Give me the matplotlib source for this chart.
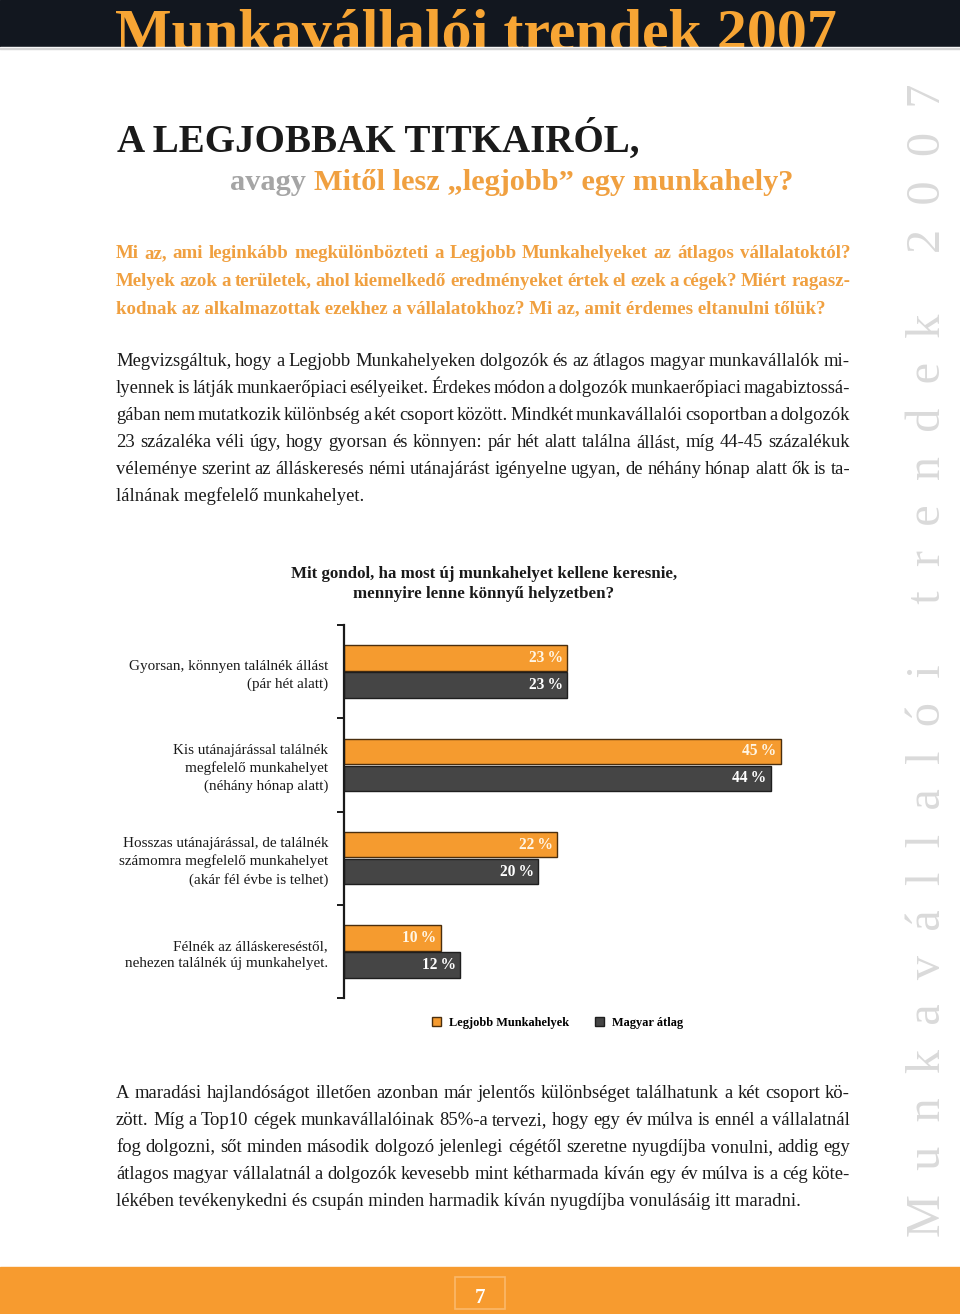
import matplotlib
matplotlib.use('Agg')
import matplotlib.pyplot as plt
from matplotlib.patches import Rectangle, Patch

# ---------------- data ----------------
categories = [
    "Gyorsan, könnyen találnék állást\n(pár hét alatt)",
    "Kis utánajárással találnék\nmegfelelő munkahelyet\n(néhány hónap alatt)",
    "Hosszas utánajárással, de találnék\nszámomra megfelelő munkahelyet\n(akár fél évbe is telhet)",
    "Félnék az álláskereséstől,\nnehezen találnék új munkahelyet.",
]
legjobb = [23, 45, 22, 10]
magyar = [23, 44, 20, 12]
series_names = ["Legjobb Munkahelyek", "Magyar átlag"]
chart_title = "Mit gondol, ha most új munkahelyet kellene keresnie,\nmennyire lenne könnyű helyzetben?"

header_text = "Munkavállalói trendek 2007"
title_text = "A LEGJOBBAK TITKAIRÓL,"
subtitle_gray = "avagy"
subtitle_orange = "Mitől lesz „legjobb” egy munkahely?"
lead_lines = [
    "Mi az, ami leginkább megkülönbözteti a Legjobb Munkahelyeket az átlagos vállalatoktól?",
    "Melyek azok a területek, ahol kiemelkedő eredményeket értek el ezek a cégek? Miért ragasz-",
    "kodnak az alkalmazottak ezekhez a vállalatokhoz? Mi az, amit érdemes eltanulni tőlük?",
]
body_lines = [
    "Megvizsgáltuk, hogy a Legjobb Munkahelyeken dolgozók és az átlagos magyar munkavállalók mi-",
    "lyennek is látják munkaerőpiaci esélyeiket. Érdekes módon a dolgozók munkaerőpiaci magabiztossá-",
    "gában nem mutatkozik különbség a két csoport között. Mindkét munkavállalói csoportban a dolgozók",
    "23 százaléka véli úgy, hogy gyorsan és könnyen: pár hét alatt találna állást, míg 44-45 százalékuk",
    "véleménye szerint az álláskeresés némi utánajárást igényelne ugyan, de néhány hónap alatt ők is ta-",
    "lálnának megfelelő munkahelyet.",
]
tail_lines = [
    "A maradási hajlandóságot illetően azonban már jelentős különbséget találhatunk a két csoport kö-",
    "zött. Míg a Top10 cégek munkavállalóinak 85%-a tervezi, hogy egy év múlva is ennél a vállalatnál",
    "fog dolgozni, sőt minden második dolgozó jelenlegi cégétől szeretne nyugdíjba vonulni, addig egy",
    "átlagos magyar vállalatnál a dolgozók kevesebb mint kétharmada kíván egy év múlva is a cég köte-",
    "lékében tevékenykedni és csupán minden harmadik kíván nyugdíjba vonulásáig itt maradni.",
]
side_words = ["Munkavállalói", "trendek", "2007"]
page_number = "7"

# ---------------- style ----------------
SERIF = ["Liberation Serif", "DejaVu Serif"]
ORANGE = "#f59b2f"
TXT_ORANGE = "#f0a040"
HEAD_ORANGE = "#f7a534"
DARK = "#454545"

fig = plt.figure(figsize=(9.6, 13.14), dpi=100)
bg = fig.add_axes([0, 0, 1, 1])
bg.set_xlim(0, 960)
bg.set_ylim(1314, 0)
bg.axis('off')
renderer = fig.canvas.get_renderer()


def width_of(t):
    return t.get_window_extent(renderer).width


def fit(t, target):
    fs = t.get_fontsize()
    t.set_fontsize(fs * target / width_of(t))
    return t


def justified(line, y, x0, x1, do_justify=True, **kw):
    if not do_justify:
        bg.text(x0, y, line, va='baseline', **kw)
        return
    words = line.split(' ')
    texts = [bg.text(0, y, w, va='baseline', **kw) for w in words]
    widths = [width_of(t) for t in texts]
    gap = (x1 - x0 - sum(widths)) / (len(words) - 1)
    x = x0
    for t, w in zip(texts, widths):
        t.set_x(x)
        x += w + gap


# header band
bg.add_patch(Rectangle((0, 0), 960, 47, color="#12171f", zorder=1))
ht = bg.text(115, 50, header_text, family=SERIF, weight='bold', color=HEAD_ORANGE,
             fontsize=44, va='baseline', zorder=2)
fit(ht, 723)
bg.add_patch(Rectangle((0, 47), 960, 4, color="white", zorder=3))
bg.add_patch(Rectangle((0, 48), 960, 1.2, color="#d4d4d4", zorder=4))

# titles
tt = bg.text(117, 152, title_text, family=SERIF, weight='bold', color="#1a1a1a",
             fontsize=30, va='baseline')
fit(tt, 522)
sg = bg.text(230, 190, subtitle_gray, family=SERIF, weight='bold', color="#a5a5a5",
             fontsize=22, va='baseline')
so = bg.text(0, 190, subtitle_orange, family=SERIF, weight='bold', color=TXT_ORANGE,
             fontsize=22, va='baseline')
tot = width_of(sg) + width_of(so)
scale = (792 - 230 - 8) / tot
sg.set_fontsize(22 * scale)
so.set_fontsize(22 * scale)
so.set_x(230 + width_of(sg) + 8)

# lead paragraph (orange bold)
for i, line in enumerate(lead_lines):
    justified(line, 258 + i * 27.5, 116, 850, do_justify=(i < 2),
              family=SERIF, weight='bold', color=TXT_ORANGE, fontsize=13.6)

# body paragraph
for i, line in enumerate(body_lines):
    justified(line, 366 + i * 27, 116, 850, do_justify=(i < len(body_lines) - 1),
              family=SERIF, color="#1a1a1a", fontsize=13.4)

for i, line in enumerate(tail_lines):
    justified(line, 1098 + i * 27, 116, 850, do_justify=(i < len(tail_lines) - 1),
              family=SERIF, color="#1a1a1a", fontsize=13.4)

# chart title
bg.text(484, 584, chart_title, family=SERIF, weight='bold', color="#1a1a1a",
        fontsize=12.2, ha='center', va='center', linespacing=1.3)

# side vertical text
side = "     ".join("  ".join(w) for w in side_words)
st = bg.text(940, 660, side, family=SERIF, color="#dadada", fontsize=30,
             rotation=90, rotation_mode='anchor', ha='center', va='baseline')
h = st.get_window_extent(renderer).height
st.set_fontsize(30 * 1150 / h)

# footer
bg.add_patch(Rectangle((0, 1267), 960, 47, color="#f79b2f"))
bg.add_patch(Rectangle((455, 1277), 50, 32, fill=False, edgecolor="#fbb86a", lw=1.2))
bg.text(480, 1303, page_number, family=SERIF, weight='bold', color="white",
        fontsize=15, ha='center', va='baseline')

# ---------------- chart ----------------
ax = fig.add_axes([344 / 960, 1 - 998 / 1314, 485 / 960, 373 / 1314])
centers = [i + 0.5 for i in range(len(categories))]
off = 0.145
bh = 0.275
y1 = [c - off for c in centers]
y2 = [c + off for c in centers]
ax.barh(y1, legjobb, height=bh, color=ORANGE, edgecolor="#4a2e0e", lw=1.0,
        label=series_names[0])
ax.barh(y2, magyar, height=bh, color=DARK, edgecolor="#1e1e1e", lw=1.0,
        label=series_names[1])
for y, v in zip(y1, legjobb):
    ax.text(v - 0.45, y, f"{v}\u2009%", ha='right', va='center', family=SERIF,
            weight='bold', color="#fff6e6", fontsize=11.2)
for y, v in zip(y2, magyar):
    ax.text(v - 0.45, y, f"{v}\u2009%", ha='right', va='center', family=SERIF,
            weight='bold', color="white", fontsize=11.2)

ax.set_xlim(0, 50)
ax.set_ylim(len(categories), 0)
for s in ['top', 'right', 'bottom']:
    ax.spines[s].set_visible(False)
ax.spines['left'].set_color("#1a1a1a")
ax.spines['left'].set_linewidth(1.6)
ax.set_xticks([])
ax.set_yticks(list(range(len(categories) + 1)))
ax.set_yticklabels([])
ax.tick_params(axis='y', which='major', length=5, width=1.4, color="#1a1a1a")
ax.set_yticks(centers, minor=True)
ax.set_yticklabels(categories, minor=True, family=SERIF, fontsize=10.9, color="#1a1a1a",
                   linespacing=1.4)
ax.tick_params(axis='y', which='minor', length=0, pad=11.5)
ax.patch.set_alpha(0)

ax.legend(handles=[Patch(facecolor=ORANGE, edgecolor="#4a2e0e"),
                   Patch(facecolor=DARK, edgecolor="#1e1e1e")],
          labels=series_names, loc='center', bbox_to_anchor=(0.44, -0.066),
          ncol=2, frameon=False, handlelength=0.75, handleheight=0.75,
          handletextpad=0.6, columnspacing=2.1,
          prop={'family': SERIF, 'weight': 'bold', 'size': 8.9})

fig.savefig("out.png", dpi=100)
